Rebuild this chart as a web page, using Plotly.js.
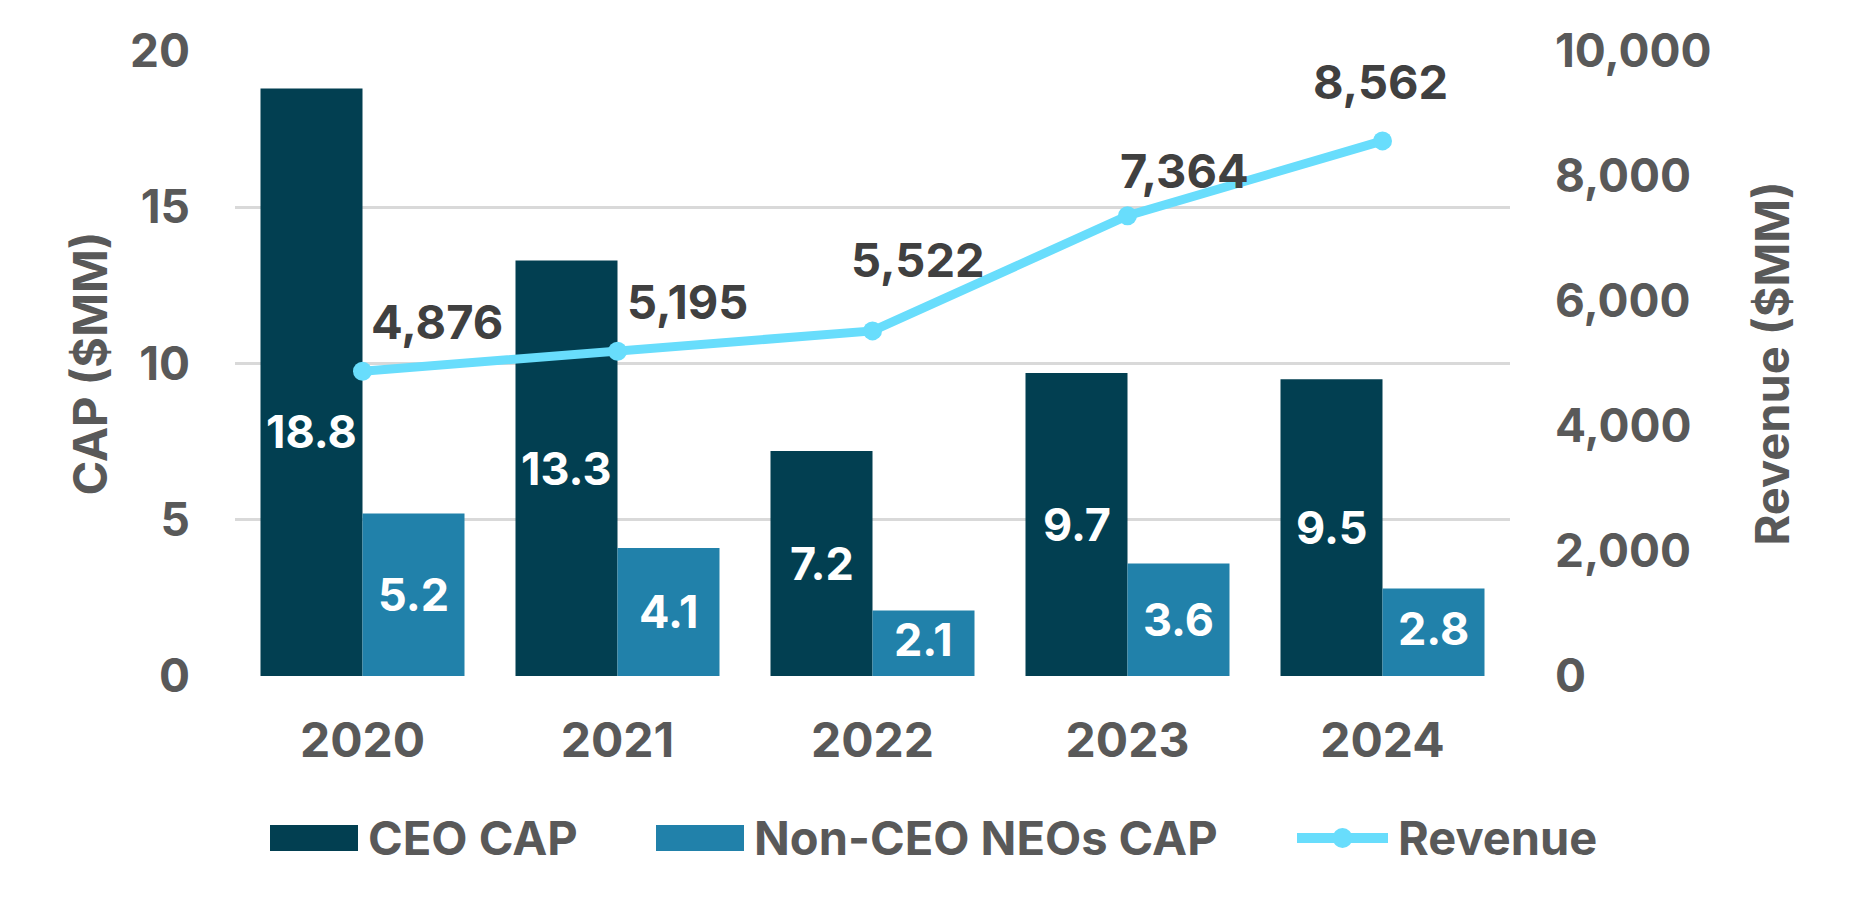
<!DOCTYPE html>
<html>
<head>
<meta charset="utf-8">
<script src="https://cdn.plot.ly/plotly-3.0.1.min.js"></script>
<style>
html,body{margin:0;padding:0;background:#fff;}
#chart{width:1854px;height:908px;}
</style>
</head>
<body>
<div id="chart"></div>
<script>
// ---- data ----
const years = ['2020', '2021', '2022', '2023', '2024'];
const ceoCap = [18.8, 13.3, 7.2, 9.7, 9.5];
const nonCeoCap = [5.2, 4.1, 2.1, 3.6, 2.8];
const revenue = [4876, 5195, 5522, 7364, 8562];
const leftTicks = [0, 5, 10, 15, 20];
const rightTicks = [0, 2000, 4000, 6000, 8000, 10000];

// ---- style ----
const FONT = 'Inter, Lato, "Open Sans", sans-serif';
const GREY = '#595959';
const DARK = '#404040';
const C_CEO = '#023f51';
const C_NON = '#2181aa';
const C_REV = '#68ddfc';

// plot area in pixels (for decoration placement)
const L = 235, R = 1510, T = 51, B = 676;
const px = p => (p - L) / (R - L);
const py = p => (B - p) / (B - T);

// label offsets (pixels) for revenue labels and bar labels
const revShift = [[74, 50], [70, 50], [45, 71], [57, 45], [-2, 59]];
const ceoShift = [-49, 0, 0, 0, 0];
const nonShift = [0, 0, 4, 0, 4];

const fmt = v => v.toLocaleString('en-US');

const traces = [
  {
    type: 'bar', name: 'CEO CAP', x: years, y: ceoCap,
    marker: {color: C_CEO}, yaxis: 'y', hoverinfo: 'skip'
  },
  {
    type: 'bar', name: 'Non-CEO NEOs CAP', x: years, y: nonCeoCap,
    marker: {color: C_NON}, yaxis: 'y', hoverinfo: 'skip'
  },
  {
    type: 'scatter', mode: 'lines+markers', name: 'Revenue', x: years, y: revenue,
    yaxis: 'y2', line: {color: C_REV, width: 9}, marker: {color: C_REV, size: 19},
    hoverinfo: 'skip'
  }
];

const annotations = [];
years.forEach((yr, i) => {
  annotations.push({
    xref: 'x', yref: 'y2', x: i, y: revenue[i], text: fmt(revenue[i]),
    showarrow: false, xanchor: 'center', yanchor: 'middle',
    xshift: revShift[i][0], yshift: revShift[i][1],
    font: {family: FONT, size: 47, color: DARK, weight: 700}
  });
  annotations.push({
    xref: 'x', yref: 'y', x: i - 0.2, y: ceoCap[i] / 2, text: ceoCap[i].toFixed(1),
    showarrow: false, xanchor: 'center', yanchor: 'middle', yshift: ceoShift[i],
    font: {family: FONT, size: 45, color: '#ffffff', weight: 700}
  });
  annotations.push({
    xref: 'x', yref: 'y', x: i + 0.2, y: nonCeoCap[i] / 2, text: nonCeoCap[i].toFixed(1),
    showarrow: false, xanchor: 'center', yanchor: 'middle', yshift: nonShift[i],
    font: {family: FONT, size: 45, color: '#ffffff', weight: 700}
  });
});

// axis titles
annotations.push({
  xref: 'paper', yref: 'paper', x: px(89), y: 0.5, text: 'CAP ($MM)', textangle: -90,
  showarrow: false, xanchor: 'center', yanchor: 'middle',
  font: {family: FONT, size: 47, color: GREY, weight: 700}
});
annotations.push({
  xref: 'paper', yref: 'paper', x: px(1771), y: 0.5, text: 'Revenue ($MM)', textangle: -90,
  showarrow: false, xanchor: 'center', yanchor: 'middle',
  font: {family: FONT, size: 47, color: GREY, weight: 700}
});

// custom legend
const legY = 838;
const legendItems = [
  {name: 'CEO CAP', kind: 'bar', color: C_CEO, x0: 270, x1: 358, tx: 366},
  {name: 'Non-CEO NEOs CAP', kind: 'bar', color: C_NON, x0: 656, x1: 744, tx: 752},
  {name: 'Revenue', kind: 'line', color: C_REV, x0: 1297, x1: 1388, tx: 1396}
];
const shapes = [];
legendItems.forEach(it => {
  if (it.kind === 'bar') {
    shapes.push({type: 'rect', xref: 'paper', yref: 'paper',
      x0: px(it.x0), x1: px(it.x1), y0: py(legY - 13), y1: py(legY + 13),
      fillcolor: it.color, line: {width: 0}});
  } else {
    shapes.push({type: 'line', xref: 'paper', yref: 'paper',
      x0: px(it.x0), x1: px(it.x1), y0: py(legY), y1: py(legY),
      line: {color: it.color, width: 10}});
    const cx = (it.x0 + it.x1) / 2;
    shapes.push({type: 'circle', xref: 'paper', yref: 'paper',
      x0: px(cx - 10), x1: px(cx + 10), y0: py(legY - 10), y1: py(legY + 10),
      fillcolor: it.color, line: {width: 0}});
  }
  annotations.push({
    xref: 'paper', yref: 'paper', x: px(it.tx), y: py(legY), text: it.name,
    showarrow: false, xanchor: 'left', yanchor: 'middle',
    font: {family: FONT, size: 47, color: GREY, weight: 700}
  });
});

const layout = {
  width: 1854, height: 908,
  margin: {l: L, r: 1854 - R, t: T, b: 908 - B, pad: 0},
  paper_bgcolor: '#ffffff', plot_bgcolor: '#ffffff',
  showlegend: false,
  barmode: 'group', bargap: 0.2, bargroupgap: 0,
  font: {family: FONT, color: GREY},
  xaxis: {
    type: 'category', showgrid: false, zeroline: false, showline: false,
    ticks: '', ticklabelstandoff: 32,
    tickfont: {family: FONT, size: 48, color: GREY, weight: 700}
  },
  yaxis: {
    range: [0, 20], tickvals: leftTicks, showgrid: true, gridcolor: '#d9d9d9', gridwidth: 3,
    zeroline: false, showline: false, ticks: '', ticklabelstandoff: 44,
    tickfont: {family: FONT, size: 46, color: GREY, weight: 700}
  },
  yaxis2: {
    range: [0, 10000], tickvals: rightTicks, overlaying: 'y', side: 'right',
    showgrid: false, zeroline: false, showline: false, ticks: '', ticklabelstandoff: 44,
    tickformat: ',d',
    tickfont: {family: FONT, size: 46, color: GREY, weight: 700}
  },
  annotations: annotations,
  shapes: shapes
};

Plotly.newPlot('chart', traces, layout, {staticPlot: true, displayModeBar: false});
</script>
</body>
</html>
